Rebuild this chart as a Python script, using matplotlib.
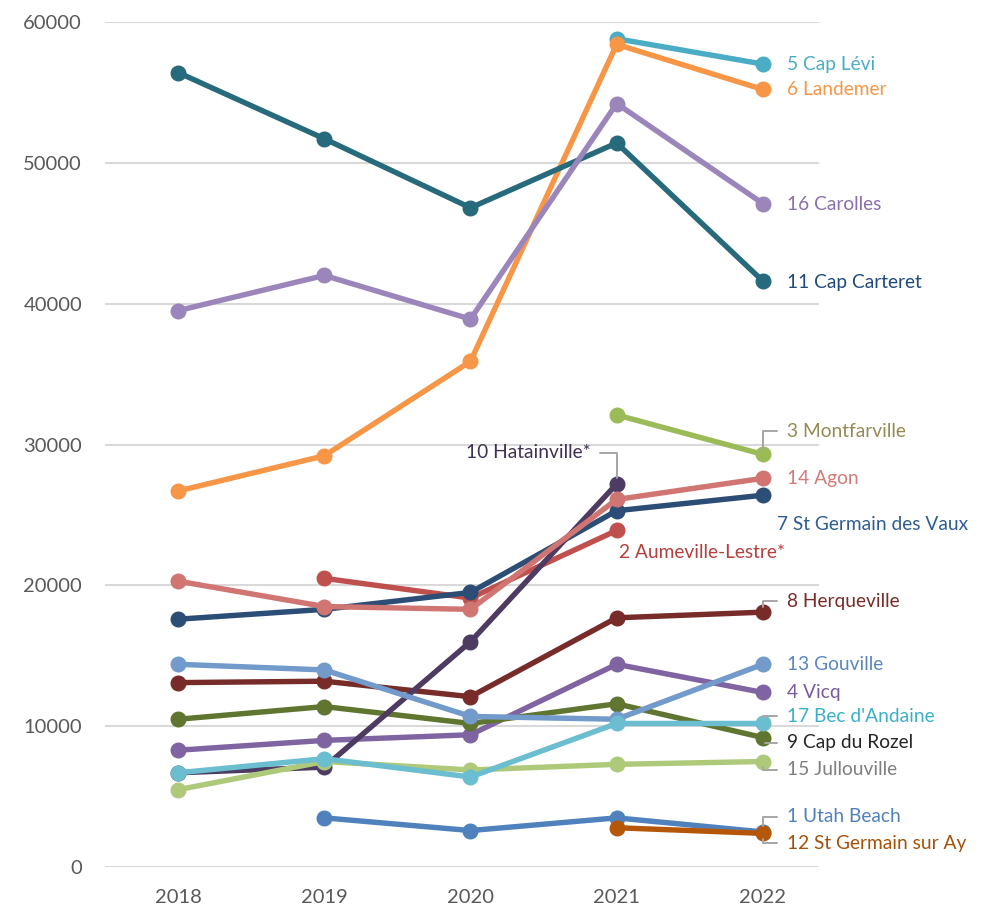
import matplotlib.pyplot as plt
import numpy as np

plt.rcParams['font.family'] = ['Lato', 'DejaVu Sans']

years = ['2018', '2019', '2020', '2021', '2022']

# values per site, None = no data that year
cap_levi = [None, None, None, 58800, 57000]
landemer = [26700, 29200, 35900, 58400, 55200]
cap_carteret = [56400, 51700, 46800, 51400, 41600]
carolles = [39500, 42000, 38900, 54200, 47100]
montfarville = [None, None, None, 32100, 29300]
hatainville = [6700, 7100, 16000, 27200, None]
agon = [20300, 18500, 18300, 26100, 27600]
aumeville = [None, 20500, 19100, 23900, None]
st_germain_vaux = [17600, 18300, 19500, 25300, 26400]
herqueville = [13100, 13200, 12100, 17700, 18100]
gouville = [14400, 14000, 10700, 10500, 14400]
vicq = [8300, 9000, 9400, 14400, 12400]
cap_rozel = [10500, 11400, 10200, 11600, 9200]
bec_andaine = [6700, 7700, 6400, 10200, 10200]
jullouville = [5500, 7500, 6900, 7300, 7500]
utah_beach = [None, 3500, 2600, 3500, 2500]
st_germain_ay = [None, None, None, 2800, 2400]

# name, values, line colour, label colour (drawn in series-number order)
series = [
    ('1 Utah Beach', utah_beach, '#4f81bd', '#4f81bd'),
    ('2 Aumeville-Lestre*', aumeville, '#c0504d', '#b5403e'),
    ('3 Montfarville', montfarville, '#9bbb59', '#948a54'),
    ('4 Vicq', vicq, '#8064a2', '#7a5a9c'),
    ('5 Cap Lévi', cap_levi, '#4bacc6', '#4bacc6'),
    ('6 Landemer', landemer, '#f79646', '#f79646'),
    ('7 St Germain des Vaux', st_germain_vaux, '#2c4d75', '#2e5d91'),
    ('8 Herqueville', herqueville, '#772c2a', '#772c2a'),
    ('9 Cap du Rozel', cap_rozel, '#5f7530', '#262626'),
    ('10 Hatainville*', hatainville, '#4d3b62', '#403152'),
    ('11 Cap Carteret', cap_carteret, '#276a7c', '#1f497d'),
    ('12 St Germain sur Ay', st_germain_ay, '#b65708', '#a5510a'),
    ('13 Gouville', gouville, '#729aca', '#5b86c0'),
    ('14 Agon', agon, '#d07572', '#d47a78'),
    ('15 Jullouville', jullouville, '#afc97a', '#7f7f7f'),
    ('16 Carolles', carolles, '#9b86bb', '#8a70ad'),
    ('17 Bec d\'Andaine', bec_andaine, '#6bbdd0', '#3cb0c8'),
]

# label placement: anchor year index, offset in pixels (x right, y down), align, leader line
labels = {
    '1 Utah Beach': (4, 24, -15, 'left', True),
    '2 Aumeville-Lestre*': (3, 2, 22, 'left', False),
    '3 Montfarville': (4, 24, -23, 'left', True),
    '4 Vicq': (4, 24, 0, 'left', False),
    '5 Cap Lévi': (4, 24, 0, 'left', False),
    '6 Landemer': (4, 24, 0, 'left', False),
    '7 St Germain des Vaux': (4, 14, 29, 'left', False),
    '8 Herqueville': (4, 24, -11, 'left', True),
    '9 Cap du Rozel': (4, 24, 5, 'left', True),
    '10 Hatainville*': (3, -26, -31, 'right', True),
    '11 Cap Carteret': (4, 24, 1, 'left', False),
    '12 St Germain sur Ay': (4, 24, 10, 'left', True),
    '13 Gouville': (4, 24, 0, 'left', False),
    '14 Agon': (4, 24, 0, 'left', False),
    '15 Jullouville': (4, 24, 8, 'left', True),
    '16 Carolles': (4, 24, 1, 'left', False),
    '17 Bec d\'Andaine': (4, 24, -7, 'left', True),
}

fig = plt.figure(figsize=(9.86, 9.09), dpi=100)
ax = fig.add_axes([0.1065, 0.046, 0.724, 0.93])

x = np.arange(len(years))
for i, (name, vals, color, tcolor) in enumerate(series):
    y = np.array([np.nan if v is None else v for v in vals], dtype=float)
    ax.plot(x, y, color=color, lw=3.9, marker='o', ms=10.5, zorder=3 + i * 0.01,
            solid_capstyle='round')

    idx, dx, dy, ha, leader = labels[name]
    arrow = None
    if leader:
        if ha == 'left':
            arrow = dict(arrowstyle='-', color='#a6a6a6', lw=1.4, relpos=(0, 0.5),
                         connectionstyle='angle,angleA=180,angleB=90,rad=0',
                         shrinkA=5, shrinkB=4)
        else:
            arrow = dict(arrowstyle='-', color='#a6a6a6', lw=1.4, relpos=(1, 0.5),
                         connectionstyle='angle,angleA=0,angleB=90,rad=0',
                         shrinkA=5, shrinkB=4)
    ax.annotate(name, xy=(x[idx], y[idx]), xytext=(dx, -dy), textcoords='offset pixels',
                ha=ha, va='center', color=tcolor, fontsize=13.8,
                arrowprops=arrow, annotation_clip=False, zorder=5)

ax.set_xlim(-0.5, 4.383)
ax.set_ylim(0, 60000)
ax.set_xticks(x)
ax.set_xticklabels(years)
ax.set_yticks(np.arange(0, 60001, 10000))
ax.set_yticklabels([str(v) for v in range(0, 60001, 10000)])
ax.tick_params(length=0, labelsize=14.5, labelcolor='#595959')
ax.tick_params(axis='y', pad=16.5)
ax.tick_params(axis='x', pad=16)
ax.grid(axis='y', color='#d9d9d9', lw=1.5)
ax.set_axisbelow(True)
for s in ax.spines.values():
    s.set_visible(False)

fig.savefig('out.png', dpi=100)
